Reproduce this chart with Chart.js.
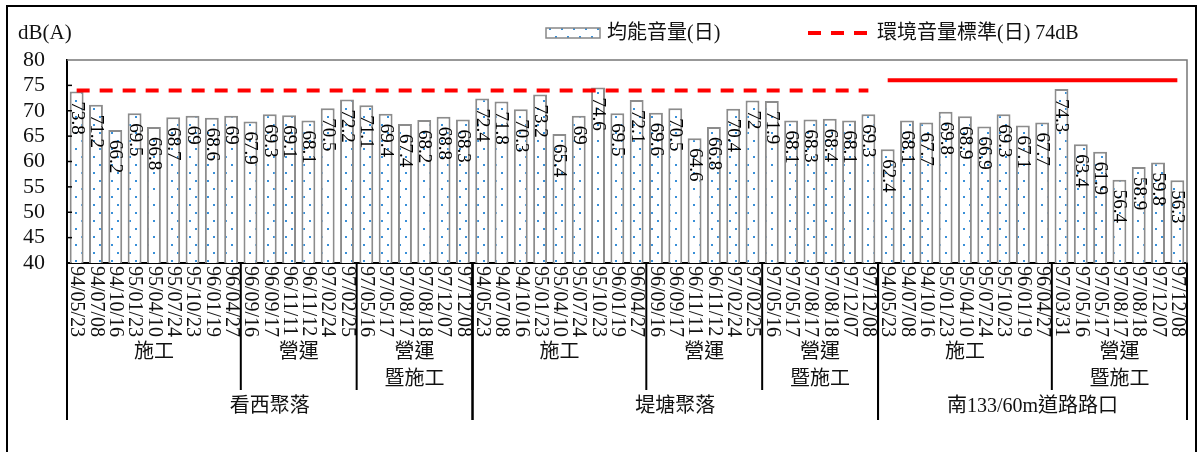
<!DOCTYPE html>
<html>
<head>
<meta charset="utf-8">
<script src="https://cdn.jsdelivr.net/npm/chart.js@4"></script>
<style>
  body { margin: 0; background: #fff; }
  canvas { display: block; }
</style>
</head>
<body>
<canvas id="noise-chart" width="1198" height="452"></canvas>
<script>
// Measurement dates for each site
const kanxiDates = ["94/05/23", "94/07/08", "94/10/16", "95/01/23", "95/04/10", "95/07/24", "95/10/23", "96/01/19", "96/04/27",
  "96/09/16", "96/09/17", "96/11/11", "96/11/12", "97/02/24", "97/02/25",
  "97/05/16", "97/05/17", "97/08/17", "97/08/18", "97/12/07", "97/12/08"];
const ditangDates = ["94/05/23", "94/07/08", "94/10/16", "95/01/23", "95/04/10", "95/07/24", "95/10/23", "96/01/19", "96/04/27",
  "96/09/16", "96/09/17", "96/11/11", "96/11/12", "97/02/24", "97/02/25",
  "97/05/16", "97/05/17", "97/08/17", "97/08/18", "97/12/07", "97/12/08"];
const roadDates = ["94/05/23", "94/07/08", "94/10/16", "95/01/23", "95/04/10", "95/07/24", "95/10/23", "96/01/19", "96/04/27",
  "97/03/31", "97/05/16", "97/05/17", "97/08/17", "97/08/18", "97/12/07", "97/12/08"];

// Leq (day) values, dB(A)
const kanxiLevels = [73.8, 71.2, 66.2, 69.5, 66.8, 68.7, 69, 68.6, 69,
  67.9, 69.3, 69.1, 68.1, 70.5, 72.2,
  71.1, 69.4, 67.4, 68.2, 68.8, 68.3];
const ditangLevels = [72.4, 71.8, 70.3, 73.2, 65.4, 69, 74.6, 69.5, 72.1,
  69.6, 70.5, 64.6, 66.8, 70.4, 72,
  71.9, 68.1, 68.3, 68.4, 68.1, 69.3];
const roadLevels = [62.4, 68.1, 67.7, 69.8, 68.9, 66.9, 69.3, 67.1, 67.7,
  74.3, 63.4, 61.9, 56.4, 58.9, 59.8, 56.3];

// Standard limit per site (dashed 74 for villages, solid line for the road)
const siteLimits = [74, 74, 76];
const siteNames = ["看西聚落", "堤塘聚落", "南133/60m道路路口"];

// Phase groups under the dates
const phaseNames = [["施工"], ["營運"], ["營運", "暨施工"],
  ["施工"], ["營運"], ["營運", "暨施工"],
  ["施工"], ["營運", "暨施工"]];
const phaseSizes = [9, 6, 6, 9, 6, 6, 9, 7];

const yTicks = [40, 45, 50, 55, 60, 65, 70, 75, 80];

const siteDates = [kanxiDates, ditangDates, roadDates];
const dates = [].concat(kanxiDates, ditangDates, roadDates);
const levels = [].concat(kanxiLevels, ditangLevels, roadLevels);
const dashedLimit = [];
const solidLimit = [];
siteDates.forEach((list, s) => {
  list.forEach(() => {
    dashedLimit.push(s < 2 ? siteLimits[s] : null);
    solidLimit.push(s === 2 ? siteLimits[s] : null);
  });
});

const SERIF = '"Liberation Serif", "Noto Sans CJK TC", serif';

function dotPattern() {
  const tile = document.createElement("canvas");
  tile.width = 12;
  tile.height = 16;
  const t = tile.getContext("2d");
  t.fillStyle = "#ffffff";
  t.fillRect(0, 0, 12, 16);
  t.fillStyle = "#3a90d8";
  t.fillRect(3, 4, 2, 2);
  t.fillRect(9, 12, 2, 2);
  return t.createPattern(tile, "repeat");
}

const ctx = document.getElementById("noise-chart").getContext("2d");
const pattern = dotPattern();

const decorations = {
  id: "decorations",
  beforeDraw(chart) {
    const c = chart.ctx;
    c.save();
    c.fillStyle = "#fff";
    c.fillRect(0, 0, chart.width, chart.height);
    c.strokeStyle = "#000";
    c.lineWidth = 2;
    c.strokeRect(7, 6, 1189, 460);
    c.restore();
  },
  afterDatasetsDraw(chart) {
    const c = chart.ctx;
    const area = chart.chartArea;
    const meta = chart.getDatasetMeta(0);
    c.save();
    c.fillStyle = "#000";
    c.font = "19px " + SERIF;
    c.textAlign = "left";
    c.textBaseline = "middle";
    meta.data.forEach((bar, i) => {
      c.save();
      c.translate(bar.x, bar.y + 10);
      c.rotate(Math.PI / 2);
      c.fillText(String(levels[i]), 0, 0);
      c.restore();
    });

    // plot frame top/right
    c.strokeStyle = "#777";
    c.lineWidth = 1.5;
    c.beginPath();
    c.moveTo(area.left, area.top);
    c.lineTo(area.right, area.top);
    c.lineTo(area.right, area.bottom);
    c.stroke();

    // inner y ticks
    const y = chart.scales.y;
    c.strokeStyle = "#000";
    c.lineWidth = 1.5;
    yTicks.slice(1, -1).forEach((v) => {
      const py = y.getPixelForValue(v);
      c.beginPath();
      c.moveTo(area.left, py);
      c.lineTo(area.left + 5, py);
      c.stroke();
    });
    c.restore();
  },
  afterDraw(chart) {
    const c = chart.ctx;
    const area = chart.chartArea;
    const x = chart.scales.x;
    c.save();
    c.fillStyle = "#111";

    // date labels
    c.font = "20px " + SERIF;
    c.textAlign = "left";
    c.textBaseline = "middle";
    dates.forEach((d, i) => {
      c.save();
      c.translate(x.getPixelForValue(i), area.bottom + 3);
      c.rotate(Math.PI / 2);
      c.fillText(d, 0, 0);
      c.restore();
    });

    // phase groups
    c.strokeStyle = "#000";
    c.lineWidth = 2;
    c.textAlign = "center";
    let start = 0;
    phaseSizes.forEach((n, g) => {
      const x0 = x.getPixelForValue(start - 0.5);
      const x1 = x.getPixelForValue(start + n - 0.5);
      c.beginPath();
      c.moveTo(x1, area.bottom);
      c.lineTo(x1, 390);
      c.stroke();
      phaseNames[g].forEach((line, k) => {
        c.fillText(line, (x0 + x1) / 2, 353 + k * 27);
      });
      start += n;
    });

    // site groups
    start = 0;
    siteDates.forEach((list, s) => {
      const x0 = x.getPixelForValue(start - 0.5);
      const x1 = x.getPixelForValue(start + list.length - 0.5);
      c.beginPath();
      c.moveTo(x0, area.bottom);
      c.lineTo(x0, 420);
      c.moveTo(x1, area.bottom);
      c.lineTo(x1, 420);
      c.stroke();
      c.fillText(siteNames[s], (x0 + x1) / 2, 407);
      start += list.length;
    });

    // axis title
    c.font = "21px " + SERIF;
    c.textAlign = "left";
    c.fillText("dB(A)", 18, 33);

    // legend
    c.font = "20px " + SERIF;
    c.fillStyle = pattern;
    c.fillRect(546, 28, 54, 10);
    c.strokeStyle = "#888";
    c.lineWidth = 1.5;
    c.strokeRect(546, 28, 54, 10);
    c.fillStyle = "#111";
    c.fillText("均能音量(日)", 607, 34);
    c.strokeStyle = "#ff0000";
    c.lineWidth = 4;
    c.setLineDash([13, 10]);
    c.beginPath();
    c.moveTo(808, 33);
    c.lineTo(868, 33);
    c.stroke();
    c.setLineDash([]);
    c.fillText("環境音量標準(日) 74dB", 877, 34);
    c.restore();
  },
};

new Chart(ctx, {
  type: "bar",
  data: {
    labels: dates,
    datasets: [
      {
        label: "均能音量(日)",
        data: levels,
        backgroundColor: pattern,
        borderColor: "#8c8c8c",
        borderWidth: 2,
        barPercentage: 0.72,
        categoryPercentage: 1,
        order: 2,
      },
      {
        type: "line",
        label: "環境音量標準(日) 74dB",
        data: dashedLimit,
        borderColor: "#ff0000",
        borderWidth: 4,
        borderDash: [13, 10],
        pointRadius: 0,
        fill: false,
        order: 1,
      },
      {
        type: "line",
        label: "road",
        data: solidLimit,
        borderColor: "#ff0000",
        borderWidth: 4,
        pointRadius: 0,
        fill: false,
        order: 1,
      },
    ],
  },
  options: {
    responsive: false,
    animation: false,
    devicePixelRatio: 1,
    layout: { padding: { top: 60, right: 11, left: 0, bottom: 0 } },
    plugins: {
      legend: { display: false },
      tooltip: { enabled: false },
    },
    scales: {
      x: {
        ticks: { display: false },
        grid: { display: false, drawTicks: false },
        border: { color: "#000", width: 2 },
        afterFit: (scale) => {
          scale.height = 189;
        },
      },
      y: {
        min: 40,
        max: 80,
        afterBuildTicks: (scale) => {
          scale.ticks = yTicks.map((v) => ({ value: v }));
        },
        ticks: {
          autoSkip: false,
          padding: 22,
          color: "#111",
          font: { family: SERIF, size: 22 },
        },
        grid: { display: false, drawTicks: false },
        border: { color: "#000", width: 2 },
        afterFit: (scale) => {
          scale.width = 67;
        },
      },
    },
  },
  plugins: [decorations],
});
</script>
</body>
</html>
